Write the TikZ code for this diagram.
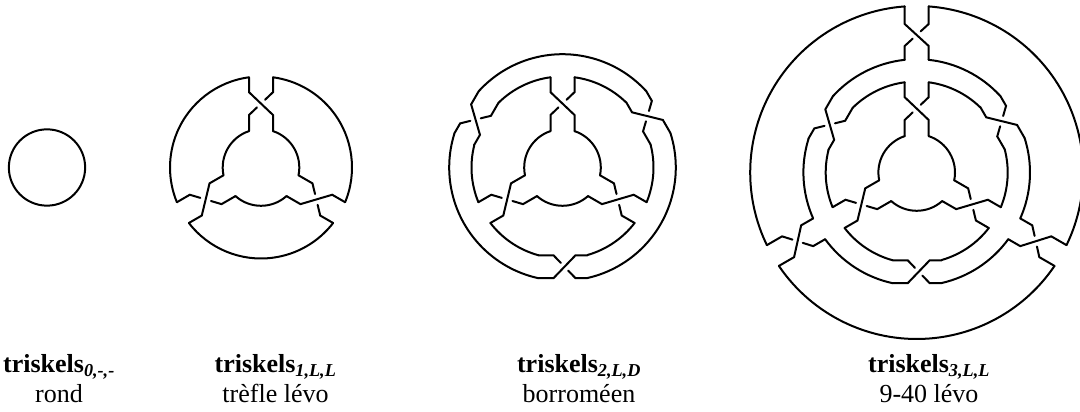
\documentclass[tikz,border=0pt]{standalone}
\usepackage{fontspec}
\setmainfont{Liberation Serif}
\usetikzlibrary{positioning}

\def\rone{38.3}
\def\rtwo{91}
\def\rthree{113.3}
\def\rfour{166.5}

% strand swap across two rings, seen at the top of the figure
\newcommand{\radialcross}[4]{%
  \draw[strand] (-12,#1) -- (-12,#2) -- (12,#3) -- (12,#4);
  \draw[strand] (12,#1) -- (12,#2) -- (4,{#2-(#2-#3)/3});
  \draw[strand] (-4,{#3+(#2-#3)/3}) -- (-12,#3) -- (-12,#4);
}
% strand swap along two rings, seen at the bottom of the figure
\newcommand{\tangentcross}{%
  \draw[strand] (-24,-110.7) -- (-9,-110.7) -- (13,-87.8) -- (25,-87.8);
  \draw[strand] (-24,-87.8) -- (-9,-87.8) -- (-1.7,-95.4);
  \draw[strand] (5.7,-103.1) -- (13,-110.7) -- (25,-110.7);
}
\newcommand{\ringarc}[3]{%
  \draw[strand] ({#2}:#1) arc[start angle={#2}, end angle={#3}, radius=#1];
}

\begin{document}
\begin{tikzpicture}[
    x=1pt, y=1pt,
    strand/.style={draw=black, line width=2pt, line cap=round, line join=miter},
    namelbl/.style={text=black, font=\fontsize{26}{30}\selectfont, align=center, anchor=north},
  ]
  \clip (0,0) rectangle (1080,412);

  % ===== rond =====
  \node[strand, circle, minimum size=76.3pt, inner sep=0pt] (rond) at (47,244.5) {};
  \node[namelbl] (lblrond) at (59,61)
    {\textbf{triskels\textsubscript{\textit{0,-,-}}}\\rond};

  % ===== trefle =====
  \begin{scope}[shift={(261,244.5)}]
    \foreach \k in {0,120,240} {
      \begin{scope}[rotate=\k]
        \radialcross{90.2}{75.3}{52.5}{36.4}
        \ringarc{\rone}{90+asin(12/\rone)}{210-asin(12/\rone)}
        \ringarc{\rtwo}{90+asin(12/\rtwo)}{210-asin(12/\rtwo)}
      \end{scope}
    }
  \end{scope}
  \node[namelbl] (lbltrefle) at (275.5,61)
    {\textbf{triskels\textsubscript{\textit{1,L,L}}}\\trèfle lévo};

  % ===== borromeen =====
  \begin{scope}[shift={(562.5,244.5)}]
    \foreach \k in {0,120,240} {
      \begin{scope}[rotate=\k]
        \radialcross{90.2}{75.3}{52.5}{36.4}
        \tangentcross
        \ringarc{\rone}{90+asin(12/\rone)}{210-asin(12/\rone)}
        \ringarc{\rtwo}{210+asin(12/\rtwo)}{270-asin(24/\rtwo)}
        \ringarc{\rtwo}{270+asin(25/\rtwo)}{330-asin(12/\rtwo)}
        \ringarc{\rthree}{270+asin(25/\rthree)}{390-asin(24/\rthree)}
      \end{scope}
    }
  \end{scope}
  \node[namelbl] (lblborro) at (579,61)
    {\textbf{triskels\textsubscript{\textit{2,L,D}}}\\borroméen};

  % ===== 9-40 =====
  \begin{scope}[shift={(916.7,239.5)}]
    \foreach \k in {0,120,240} {
      \begin{scope}[rotate=\k]
        \radialcross{90.2}{75.3}{52.5}{36.4}
        \radialcross{166.1}{148.5}{126.5}{112.7}
        \tangentcross
        \ringarc{\rone}{90+asin(12/\rone)}{210-asin(12/\rone)}
        \ringarc{\rtwo}{210+asin(12/\rtwo)}{270-asin(24/\rtwo)}
        \ringarc{\rtwo}{270+asin(25/\rtwo)}{330-asin(12/\rtwo)}
        \ringarc{\rthree}{210+asin(12/\rthree)}{270-asin(24/\rthree)}
        \ringarc{\rthree}{270+asin(25/\rthree)}{330-asin(12/\rthree)}
        \ringarc{\rfour}{90+asin(12/\rfour)}{210-asin(12/\rfour)}
      \end{scope}
    }
  \end{scope}
  \node[namelbl] (lblneuf) at (929,61)
    {\textbf{triskels\textsubscript{\textit{3,L,L}}}\\9-40 lévo};
\end{tikzpicture}
\end{document}
